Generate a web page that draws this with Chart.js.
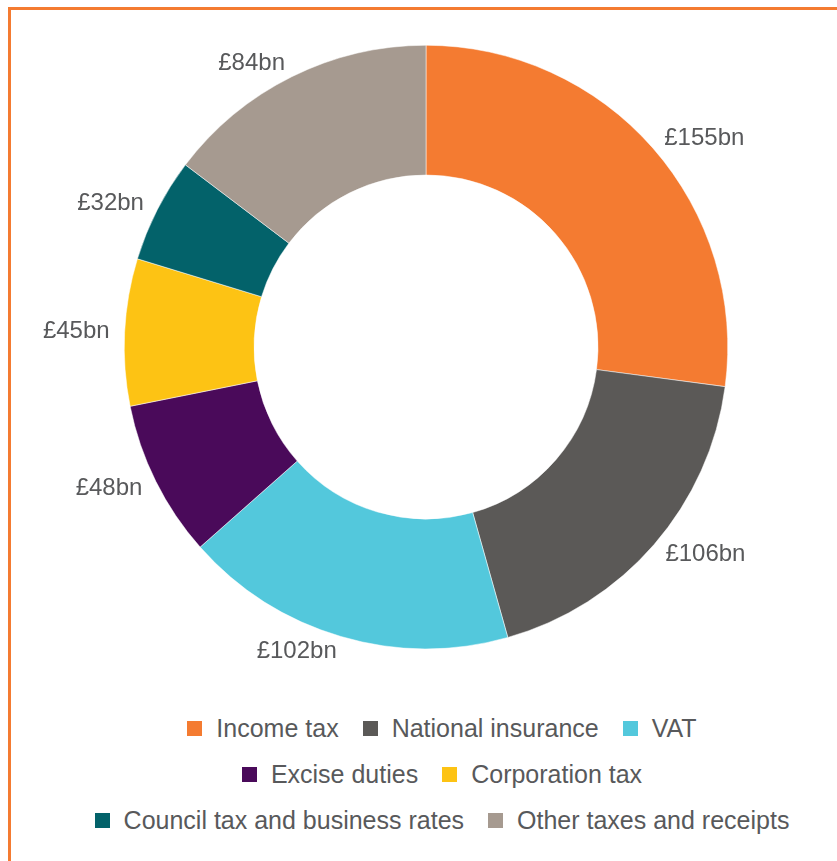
<!DOCTYPE html>
<html>
<head>
<meta charset="utf-8">
<script src="https://cdn.jsdelivr.net/npm/chart.js@4"></script>
<style>
  html, body { margin: 0; padding: 0; background: #fff; overflow: hidden; }
  body { width: 837px; height: 861px; position: relative; }
  .frame {
    position: absolute; left: 8px; top: 7px; width: 900px; height: 900px;
    border-top: 3px solid #f47b31; border-left: 3px solid #f47b31;
  }
  #chart { position: absolute; left: 0; top: 0; }
  #legend {
    position: absolute; left: 20px; top: 705px; width: 844px;
    font-family: "Liberation Sans", Arial, Helvetica, sans-serif;
    font-size: 25px; color: #58595b;
  }
  .row { display: flex; justify-content: center; height: 46px; align-items: center; }
  .item { display: flex; align-items: center; margin: 0 12px; white-space: nowrap; }
  .box { width: 15px; height: 15px; margin-right: 14px; }
</style>
</head>
<body>
<div class="frame"></div>
<canvas id="chart" width="837" height="700"></canvas>
<div id="legend"></div>
<script>
// Government receipts, £ billion
const categories = [
  "Income tax",
  "National insurance",
  "VAT",
  "Excise duties",
  "Corporation tax",
  "Council tax and business rates",
  "Other taxes and receipts",
];
const values = [155, 106, 102, 48, 45, 32, 84];
const colours = ["#f47b31", "#5b5957", "#53c8dc", "#4a0a5a", "#fdc314", "#03626a", "#a69a90"];
// which legend entries sit on each line
const legendRows = [[0, 1, 2], [3, 4], [5, 6]];

const labelFont = '24px "Liberation Sans", Arial, Helvetica, sans-serif';

// value labels just outside each slice: left-aligned on the right half, right-aligned on the left
const sliceLabels = {
  id: "sliceLabels",
  afterDatasetsDraw(chart) {
    const ctx = chart.ctx;
    const meta = chart.getDatasetMeta(0);
    ctx.save();
    ctx.font = labelFont;
    ctx.fillStyle = "#58595b";
    ctx.textBaseline = "middle";
    meta.data.forEach((arc, i) => {
      const p = arc.getProps(["x", "y", "startAngle", "endAngle", "outerRadius"], true);
      const mid = (p.startAngle + p.endAngle) / 2;
      const r = p.outerRadius + 15;
      ctx.textAlign = Math.cos(mid) >= 0 ? "left" : "right";
      ctx.fillText("£" + values[i] + "bn", p.x + Math.cos(mid) * r, p.y + Math.sin(mid) * r);
    });
    ctx.restore();
  },
};

// html legend, laid out in fixed rows
const htmlLegend = {
  id: "htmlLegend",
  afterUpdate(chart) {
    const el = document.getElementById("legend");
    el.innerHTML = "";
    const items = chart.options.plugins.legend.labels.generateLabels(chart);
    legendRows.forEach((row) => {
      const line = document.createElement("div");
      line.className = "row";
      row.forEach((idx) => {
        const it = items[idx];
        const item = document.createElement("div");
        item.className = "item";
        const box = document.createElement("span");
        box.className = "box";
        box.style.background = it.fillStyle;
        const txt = document.createElement("span");
        txt.textContent = it.text;
        item.appendChild(box);
        item.appendChild(txt);
        line.appendChild(item);
      });
      el.appendChild(line);
    });
  },
};

new Chart(document.getElementById("chart"), {
  type: "doughnut",
  data: {
    labels: categories,
    datasets: [
      {
        data: values,
        backgroundColor: colours,
        borderColor: "#ffffff",
        borderWidth: 0.5,
      },
    ],
  },
  options: {
    responsive: false,
    animation: false,
    cutout: "57%",
    layout: { padding: { top: 45, bottom: 51, left: 15, right: 0 } },
    plugins: {
      legend: { display: false },
      tooltip: { enabled: false },
    },
  },
  plugins: [sliceLabels, htmlLegend],
});
</script>
</body>
</html>
